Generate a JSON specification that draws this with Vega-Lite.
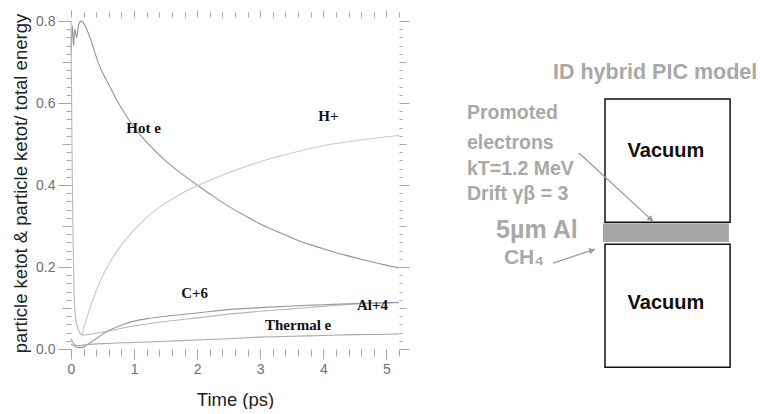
{
  "$schema": "https://vega.github.io/schema/vega-lite/v6.json",
  "background": "white",
  "padding": {"left": 11, "top": 9, "right": 0, "bottom": 0},
  "spacing": 51,
  "config": {"view": {"stroke": null}, "font": "Liberation Sans"},
  "datasets": {
    "series": [
      {"series": "Hot e", "t": 0, "v": 0.72},
      {"series": "Hot e", "t": 0.02, "v": 0.79},
      {"series": "Hot e", "t": 0.04, "v": 0.74},
      {"series": "Hot e", "t": 0.06, "v": 0.78},
      {"series": "Hot e", "t": 0.09, "v": 0.76},
      {"series": "Hot e", "t": 0.12, "v": 0.79},
      {"series": "Hot e", "t": 0.16, "v": 0.80},
      {"series": "Hot e", "t": 0.2, "v": 0.795},
      {"series": "Hot e", "t": 0.3, "v": 0.76},
      {"series": "Hot e", "t": 0.44, "v": 0.695},
      {"series": "Hot e", "t": 0.6, "v": 0.645},
      {"series": "Hot e", "t": 0.71, "v": 0.612},
      {"series": "Hot e", "t": 0.85, "v": 0.575},
      {"series": "Hot e", "t": 0.96, "v": 0.549},
      {"series": "Hot e", "t": 1.1, "v": 0.522},
      {"series": "Hot e", "t": 1.23, "v": 0.5},
      {"series": "Hot e", "t": 1.5, "v": 0.459},
      {"series": "Hot e", "t": 1.75, "v": 0.428},
      {"series": "Hot e", "t": 2.0, "v": 0.4},
      {"series": "Hot e", "t": 2.25, "v": 0.373},
      {"series": "Hot e", "t": 2.5, "v": 0.348},
      {"series": "Hot e", "t": 2.75, "v": 0.326},
      {"series": "Hot e", "t": 3.0, "v": 0.305},
      {"series": "Hot e", "t": 3.25, "v": 0.288},
      {"series": "Hot e", "t": 3.55, "v": 0.268},
      {"series": "Hot e", "t": 3.8, "v": 0.254},
      {"series": "Hot e", "t": 4.08, "v": 0.241},
      {"series": "Hot e", "t": 4.35, "v": 0.229},
      {"series": "Hot e", "t": 4.6, "v": 0.219},
      {"series": "Hot e", "t": 4.9, "v": 0.208},
      {"series": "Hot e", "t": 5.13, "v": 0.2},
      {"series": "Hot e", "t": 5.2, "v": 0.198},
      {"series": "H+", "t": 0.17, "v": 0.032},
      {"series": "H+", "t": 0.22, "v": 0.06},
      {"series": "H+", "t": 0.3, "v": 0.1},
      {"series": "H+", "t": 0.4, "v": 0.142},
      {"series": "H+", "t": 0.5, "v": 0.178},
      {"series": "H+", "t": 0.6, "v": 0.207},
      {"series": "H+", "t": 0.7, "v": 0.232},
      {"series": "H+", "t": 0.8, "v": 0.254},
      {"series": "H+", "t": 1.0, "v": 0.29},
      {"series": "H+", "t": 1.25, "v": 0.328},
      {"series": "H+", "t": 1.5, "v": 0.356},
      {"series": "H+", "t": 1.75, "v": 0.379},
      {"series": "H+", "t": 2.0, "v": 0.398},
      {"series": "H+", "t": 2.25, "v": 0.415},
      {"series": "H+", "t": 2.5, "v": 0.43},
      {"series": "H+", "t": 2.75, "v": 0.444},
      {"series": "H+", "t": 3.0, "v": 0.457},
      {"series": "H+", "t": 3.5, "v": 0.478},
      {"series": "H+", "t": 4.0, "v": 0.496},
      {"series": "H+", "t": 4.5, "v": 0.508},
      {"series": "H+", "t": 5.0, "v": 0.518},
      {"series": "H+", "t": 5.2, "v": 0.521},
      {"series": "Al+4", "t": 0, "v": 0.8},
      {"series": "Al+4", "t": 0.01, "v": 0.6},
      {"series": "Al+4", "t": 0.02, "v": 0.42},
      {"series": "Al+4", "t": 0.035, "v": 0.25},
      {"series": "Al+4", "t": 0.05, "v": 0.13},
      {"series": "Al+4", "t": 0.07, "v": 0.08},
      {"series": "Al+4", "t": 0.1, "v": 0.055},
      {"series": "Al+4", "t": 0.13, "v": 0.042},
      {"series": "Al+4", "t": 0.17, "v": 0.035},
      {"series": "Al+4", "t": 0.2, "v": 0.034},
      {"series": "Al+4", "t": 0.3, "v": 0.036},
      {"series": "Al+4", "t": 0.5, "v": 0.041},
      {"series": "Al+4", "t": 0.6, "v": 0.044},
      {"series": "Al+4", "t": 0.75, "v": 0.049},
      {"series": "Al+4", "t": 1.0, "v": 0.056},
      {"series": "Al+4", "t": 1.5, "v": 0.067},
      {"series": "Al+4", "t": 2.0, "v": 0.076},
      {"series": "Al+4", "t": 2.5, "v": 0.085},
      {"series": "Al+4", "t": 3.0, "v": 0.092},
      {"series": "Al+4", "t": 3.5, "v": 0.098},
      {"series": "Al+4", "t": 4.0, "v": 0.104},
      {"series": "Al+4", "t": 4.5, "v": 0.109},
      {"series": "Al+4", "t": 5.0, "v": 0.112},
      {"series": "Al+4", "t": 5.2, "v": 0.113},
      {"series": "C+6", "t": 0, "v": 0.012},
      {"series": "C+6", "t": 0.05, "v": 0.008},
      {"series": "C+6", "t": 0.1, "v": 0.004},
      {"series": "C+6", "t": 0.16, "v": 0.003},
      {"series": "C+6", "t": 0.25, "v": 0.01},
      {"series": "C+6", "t": 0.36, "v": 0.021},
      {"series": "C+6", "t": 0.52, "v": 0.038},
      {"series": "C+6", "t": 0.6, "v": 0.045},
      {"series": "C+6", "t": 0.7, "v": 0.052},
      {"series": "C+6", "t": 0.85, "v": 0.061},
      {"series": "C+6", "t": 1.0, "v": 0.068},
      {"series": "C+6", "t": 1.25, "v": 0.075},
      {"series": "C+6", "t": 1.5, "v": 0.08},
      {"series": "C+6", "t": 2.0, "v": 0.088},
      {"series": "C+6", "t": 2.5, "v": 0.096},
      {"series": "C+6", "t": 3.0, "v": 0.101},
      {"series": "C+6", "t": 3.5, "v": 0.105},
      {"series": "C+6", "t": 4.0, "v": 0.108},
      {"series": "C+6", "t": 4.5, "v": 0.111},
      {"series": "C+6", "t": 5.0, "v": 0.113},
      {"series": "C+6", "t": 5.2, "v": 0.114},
      {"series": "Thermal e", "t": 0, "v": 0.025},
      {"series": "Thermal e", "t": 0.05, "v": 0.012},
      {"series": "Thermal e", "t": 0.1, "v": 0.008},
      {"series": "Thermal e", "t": 0.2, "v": 0.01},
      {"series": "Thermal e", "t": 0.5, "v": 0.013},
      {"series": "Thermal e", "t": 1.0, "v": 0.016},
      {"series": "Thermal e", "t": 1.5, "v": 0.019},
      {"series": "Thermal e", "t": 2.0, "v": 0.022},
      {"series": "Thermal e", "t": 2.5, "v": 0.025},
      {"series": "Thermal e", "t": 3.0, "v": 0.029},
      {"series": "Thermal e", "t": 3.5, "v": 0.031},
      {"series": "Thermal e", "t": 4.0, "v": 0.033},
      {"series": "Thermal e", "t": 4.5, "v": 0.035},
      {"series": "Thermal e", "t": 5.0, "v": 0.036},
      {"series": "Thermal e", "t": 5.2, "v": 0.037}
    ],
    "labels": [
      {"label": "Hot e", "t": 1.15, "v": 0.539},
      {"label": "H+", "t": 4.08, "v": 0.568},
      {"label": "C+6", "t": 1.96, "v": 0.137},
      {"label": "Al+4", "t": 4.78, "v": 0.108},
      {"label": "Thermal e", "t": 3.6, "v": 0.058}
    ],
    "boxes": [
      {"kind": "vacuum", "x0": 48.0, "x1": 89.7, "y0": 77.2, "y1": 43.0},
      {"kind": "vacuum", "x0": 48.0, "x1": 89.7, "y0": 36.9, "y1": 2.7},
      {"kind": "foil", "x0": 47.3, "x1": 89.3, "y0": 42.7, "y1": 37.5}
    ],
    "arrows": [
      {"arrow": "electrons", "x0": 39.3, "y0": 62.2, "x1": 64.0, "y1": 43.3},
      {"arrow": "ch4", "x0": 30.7, "y0": 31.6, "x1": 44.7, "y1": 35.5}
    ],
    "heads": [
      {"arrow": "electrons", "x": 63.3, "y": 43.8},
      {"arrow": "ch4", "x": 43.7, "y": 35.2}
    ],
    "diagtext": [
      {"kind": "title", "x": 64.7, "y": 84.4, "text": "ID hybrid PIC model"},
      {"kind": "vacuum", "x": 68.3, "y": 62.7, "text": "Vacuum"},
      {"kind": "vacuum", "x": 68.3, "y": 20.5, "text": "Vacuum"},
      {"kind": "note", "x": 2.0, "y": 73.3, "text": "Promoted"},
      {"kind": "note", "x": 2.0, "y": 65.0, "text": "electrons"},
      {"kind": "note", "x": 2.0, "y": 57.7, "text": "kT=1.2 MeV"},
      {"kind": "note", "x": 2.0, "y": 50.8, "text": "Drift γβ = 3"},
      {"kind": "big", "x": 11.7, "y": 40.8, "text": "5µm Al"},
      {"kind": "ch4", "x": 14.3, "y": 33.0, "text": "CH₄"}
    ]
  },
  "hconcat": [
    {
      "width": 328,
      "height": 332,
      "layer": [
        {
          "data": {"name": "series"},
          "mark": {"type": "line", "strokeWidth": 1.1, "interpolate": "monotone"},
          "encoding": {
            "x": {
              "field": "t", "type": "quantitative",
              "scale": {"domain": [0, 5.2], "nice": false, "zero": false},
              "axis": {
                "orient": "bottom",
                "values": [0,0.2,0.4,0.6,0.8,1,1.2,1.4,1.6,1.8,2,2.2,2.4,2.6,2.8,3,3.2,3.4,3.6,3.8,4,4.2,4.4,4.6,4.8,5,5.2],
                "labelExpr": "abs(datum.value - round(datum.value)) < 0.001 ? format(datum.value, 'd') : ''",
                "tickSize": {"condition": {"test": "abs(datum.value - round(datum.value)) < 0.001", "value": 10}, "value": 7},
                "domain": false, "grid": false,
                "tickColor": "#a8a8a8",
                "labelColor": "#707070", "labelFontSize": 14, "labelPadding": 3, "labelFont": "Liberation Sans",
                "labelOverlap": false, "labelFlush": false,
                "title": "Time (ps)", "titleFont": "Liberation Sans", "titleFontSize": 18.5, "titleFontWeight": "normal", "titleColor": "#222222", "titlePadding": 14
              }
            },
            "y": {
              "field": "v", "type": "quantitative",
              "scale": {"domain": [0, 0.81], "nice": false, "zero": false},
              "axis": {
                "orient": "left",
                "values": [0,0.02,0.04,0.06,0.08,0.1,0.12,0.14,0.16,0.18,0.2,0.22,0.24,0.26,0.28,0.3,0.32,0.34,0.36,0.38,0.4,0.42,0.44,0.46,0.48,0.5,0.52,0.54,0.56,0.58,0.6,0.62,0.64,0.66,0.68,0.7,0.72,0.74,0.76,0.78,0.8],
                "labelExpr": "abs(datum.value*5 - round(datum.value*5)) < 0.001 ? format(datum.value, '.1f') : ''",
                "tickSize": {"condition": [
                  {"test": "abs(datum.value*5 - round(datum.value*5)) < 0.001", "value": 13},
                  {"test": "abs(datum.value*10 - round(datum.value*10)) < 0.001", "value": 9}
                ], "value": 5},
                "domain": false, "grid": false,
                "tickColor": "#a8a8a8",
                "labelColor": "#707070", "labelFontSize": 14, "labelPadding": 3, "labelFont": "Liberation Sans",
                "labelOverlap": false, "labelFlush": false,
                "title": "particle ketot & particle ketot/ total energy", "titleFont": "Liberation Sans", "titleFontSize": 18.5, "titleFontWeight": "normal", "titleColor": "#222222", "titlePadding": 5
              }
            },
            "color": {
              "field": "series", "type": "nominal",
              "scale": {"domain": ["Hot e", "H+", "C+6", "Al+4", "Thermal e"], "range": ["#939393", "#c8c8c8", "#999999", "#b8b8b8", "#a8a8a8"]},
              "legend": null
            }
          }
        },
        {
          "data": {"name": "labels"},
          "mark": {"type": "text", "font": "Liberation Serif", "fontWeight": "bold", "fontSize": 15, "color": "#111111"},
          "encoding": {
            "x": {
              "field": "t", "type": "quantitative",
              "axis": {
                "orient": "top", "title": null, "labels": false, "domain": false, "grid": false,
                "values": [0,0.2,0.4,0.6,0.8,1,1.2,1.4,1.6,1.8,2,2.2,2.4,2.6,2.8,3,3.2,3.4,3.6,3.8,4,4.2,4.4,4.6,4.8,5,5.2],
                "tickSize": {"condition": {"test": "abs(datum.value - round(datum.value)) < 0.001", "value": 7}, "value": 5},
                "tickColor": "#a8a8a8"
              }
            },
            "y": {
              "field": "v", "type": "quantitative",
              "axis": {
                "orient": "right", "title": null, "labels": false, "domain": false, "grid": false,
                "values": [0,0.02,0.04,0.06,0.08,0.1,0.12,0.14,0.16,0.18,0.2,0.22,0.24,0.26,0.28,0.3,0.32,0.34,0.36,0.38,0.4,0.42,0.44,0.46,0.48,0.5,0.52,0.54,0.56,0.58,0.6,0.62,0.64,0.66,0.68,0.7,0.72,0.74,0.76,0.78,0.8],
                "tickSize": {"condition": [
                  {"test": "abs(datum.value*5 - round(datum.value*5)) < 0.001", "value": 10},
                  {"test": "abs(datum.value*10 - round(datum.value*10)) < 0.001", "value": 7}
                ], "value": 3},
                "tickColor": "#a8a8a8"
              }
            },
            "text": {"field": "label", "type": "nominal"}
          }
        }
      ],
      "resolve": {"axis": {"x": "independent", "y": "independent"}}
    },
    {
      "width": 300,
      "height": 360,
      "layer": [
        {
          "data": {"name": "boxes"},
          "transform": [{"filter": "datum.kind == 'vacuum'"}],
          "mark": {"type": "rect", "fill": "#ffffff", "stroke": "#111111", "strokeWidth": 1.5},
          "encoding": {
            "x": {"field": "x0", "type": "quantitative", "scale": {"domain": [0, 100], "nice": false, "zero": false}, "axis": null},
            "x2": {"field": "x1"},
            "y": {"field": "y0", "type": "quantitative", "scale": {"domain": [0, 100], "nice": false, "zero": false}, "axis": null},
            "y2": {"field": "y1"}
          }
        },
        {
          "data": {"name": "boxes"},
          "transform": [{"filter": "datum.kind == 'foil'"}],
          "mark": {"type": "rect", "fill": "#a6a6a6"},
          "encoding": {
            "x": {"field": "x0", "type": "quantitative"},
            "x2": {"field": "x1"},
            "y": {"field": "y0", "type": "quantitative"},
            "y2": {"field": "y1"}
          }
        },
        {
          "data": {"name": "arrows"},
          "mark": {"type": "rule", "color": "#9a9a9a", "strokeWidth": 1.3},
          "encoding": {
            "x": {"field": "x0", "type": "quantitative"},
            "y": {"field": "y0", "type": "quantitative"},
            "x2": {"field": "x1"},
            "y2": {"field": "y1"}
          }
        },
        {
          "data": {"name": "heads"},
          "transform": [{"filter": "datum.arrow == 'electrons'"}],
          "mark": {"type": "point", "shape": "triangle-right", "filled": true, "color": "#9a9a9a", "size": 45, "angle": 43, "opacity": 1},
          "encoding": {
            "x": {"field": "x", "type": "quantitative"},
            "y": {"field": "y", "type": "quantitative"}
          }
        },
        {
          "data": {"name": "heads"},
          "transform": [{"filter": "datum.arrow == 'ch4'"}],
          "mark": {"type": "point", "shape": "triangle-right", "filled": true, "color": "#9a9a9a", "size": 45, "angle": -18, "opacity": 1},
          "encoding": {
            "x": {"field": "x", "type": "quantitative"},
            "y": {"field": "y", "type": "quantitative"}
          }
        },
        {
          "data": {"name": "diagtext"},
          "transform": [{"filter": "datum.kind == 'title'"}],
          "mark": {"type": "text", "font": "Liberation Sans", "fontWeight": "bold", "fontSize": 21.5, "color": "#a8a8a8", "align": "center", "baseline": "middle"},
          "encoding": {
            "x": {"field": "x", "type": "quantitative"},
            "y": {"field": "y", "type": "quantitative"},
            "text": {"field": "text", "type": "nominal"}
          }
        },
        {
          "data": {"name": "diagtext"},
          "transform": [{"filter": "datum.kind == 'vacuum'"}],
          "mark": {"type": "text", "font": "Liberation Sans", "fontWeight": "bold", "fontSize": 20, "color": "#111111", "align": "center", "baseline": "middle"},
          "encoding": {
            "x": {"field": "x", "type": "quantitative"},
            "y": {"field": "y", "type": "quantitative"},
            "text": {"field": "text", "type": "nominal"}
          }
        },
        {
          "data": {"name": "diagtext"},
          "transform": [{"filter": "datum.kind == 'note'"}],
          "mark": {"type": "text", "font": "Liberation Sans", "fontWeight": "bold", "fontSize": 19.5, "color": "#a8a8a8", "align": "left", "baseline": "middle"},
          "encoding": {
            "x": {"field": "x", "type": "quantitative"},
            "y": {"field": "y", "type": "quantitative"},
            "text": {"field": "text", "type": "nominal"}
          }
        },
        {
          "data": {"name": "diagtext"},
          "transform": [{"filter": "datum.kind == 'big'"}],
          "mark": {"type": "text", "font": "Liberation Sans", "fontWeight": "bold", "fontSize": 25, "color": "#a8a8a8", "align": "left", "baseline": "middle"},
          "encoding": {
            "x": {"field": "x", "type": "quantitative"},
            "y": {"field": "y", "type": "quantitative"},
            "text": {"field": "text", "type": "nominal"}
          }
        },
        {
          "data": {"name": "diagtext"},
          "transform": [{"filter": "datum.kind == 'ch4'"}],
          "mark": {"type": "text", "font": "Liberation Sans", "fontWeight": "bold", "fontSize": 21, "color": "#a8a8a8", "align": "left", "baseline": "middle"},
          "encoding": {
            "x": {"field": "x", "type": "quantitative"},
            "y": {"field": "y", "type": "quantitative"},
            "text": {"field": "text", "type": "nominal"}
          }
        }
      ]
    }
  ]
}
